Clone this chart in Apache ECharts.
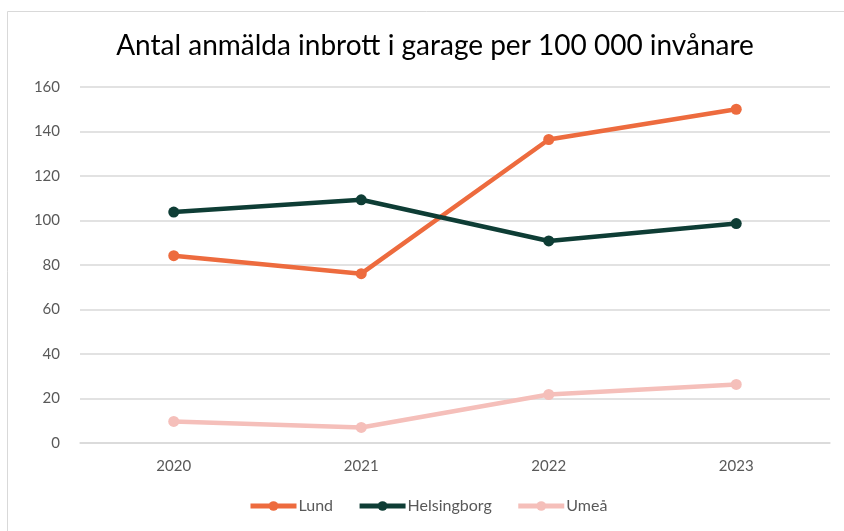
<!DOCTYPE html>
<html>
<head>
<meta charset="utf-8">
<script src="https://cdn.jsdelivr.net/npm/echarts@6/dist/echarts.min.js"></script>
<style>
  html, body { margin: 0; padding: 0; background: #fff; }
  #chart { width: 844px; height: 531px; }
</style>
</head>
<body>
<div id="chart"></div>
<script>
var years = ['2020', '2021', '2022', '2023'];
var lund = [84.2, 76.1, 136.4, 150.0];
var helsingborg = [103.8, 109.3, 90.8, 98.6];
var umea = [9.7, 7.0, 21.8, 26.3];
var seriesNames = ['Lund', 'Helsingborg', 'Umeå'];
var colors = ['#ED6B3E', '#0E3D35', '#F5BFBA'];

var chart = echarts.init(document.getElementById('chart'));

function makeSeries(name, data, color) {
    return {
        name: name,
        type: 'line',
        data: data,
        symbol: 'circle',
        symbolSize: 11,
        lineStyle: { width: 4.5, color: color },
        itemStyle: { color: color },
        emphasis: { disabled: true }
    };
}

chart.setOption({
    animation: false,
    backgroundColor: '#fff',
    color: colors,
    textStyle: { fontFamily: 'Lato, "Open Sans", sans-serif' },
    graphic: [{
        type: 'rect',
        shape: { x: 7.5, y: 11.5, width: 900, height: 600 },
        style: { fill: 'none', stroke: '#d9d9d9', lineWidth: 1 },
        silent: true
    }],
    title: {
        text: 'Antal anmälda inbrott i garage per 100 000 invånare',
        left: 430,
        textAlign: 'center',
        top: 27,
        textStyle: { fontSize: 28, fontWeight: 'normal', color: '#000', fontFamily: 'Lato, sans-serif' }
    },
    legend: {
        data: seriesNames,
        bottom: 12,
        left: 243,
        itemWidth: 46,
        itemHeight: 12,
        itemGap: 24,
        lineStyle: { width: 5 },
        textStyle: { fontSize: 16, color: '#595959', padding: [0, 0, 0, -3] }
    },
    grid: { left: 80, right: 14, top: 87, bottom: 88 },
    xAxis: {
        type: 'category',
        data: years,
        boundaryGap: true,
        axisLine: { lineStyle: { color: '#d9d9d9', width: 1.5 } },
        axisTick: { show: false },
        axisLabel: { color: '#595959', fontSize: 15, margin: 16 }
    },
    yAxis: {
        type: 'value',
        min: 0,
        max: 160,
        interval: 20,
        axisLine: { show: false },
        axisTick: { show: false },
        axisLabel: { color: '#595959', fontSize: 15, margin: 20 },
        splitLine: { lineStyle: { color: '#d9d9d9', width: 1.5 } }
    },
    series: [
        makeSeries(seriesNames[0], lund, colors[0]),
        makeSeries(seriesNames[1], helsingborg, colors[1]),
        makeSeries(seriesNames[2], umea, colors[2])
    ]
});

window.addEventListener('resize', function () {
    chart.resize();
});
</script>
</body>
</html>
